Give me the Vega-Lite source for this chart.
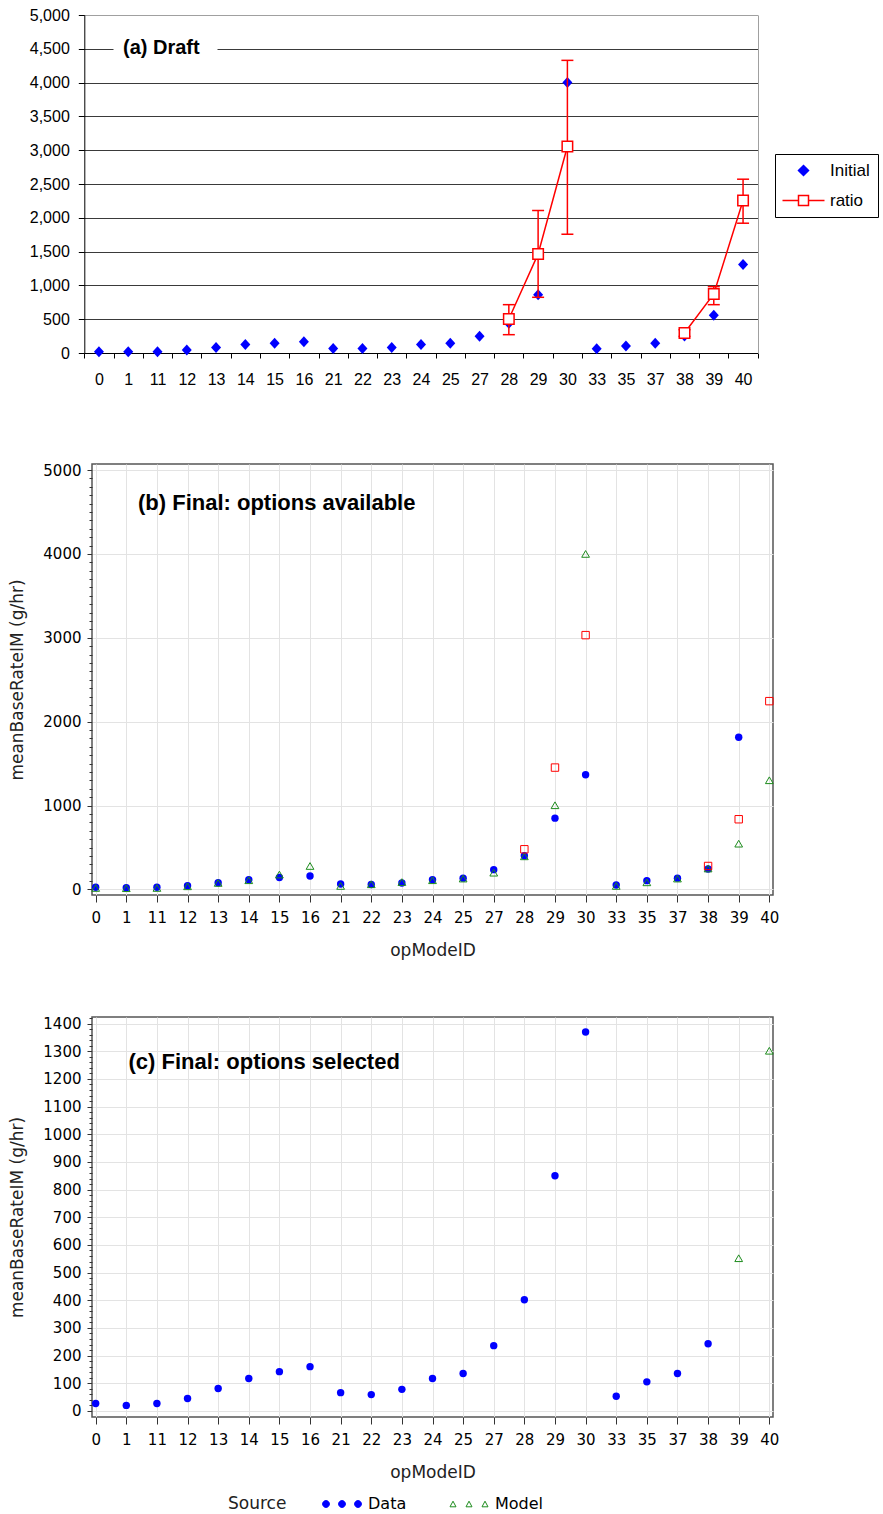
{
  "$schema": "https://vega.github.io/schema/vega-lite/v6.json",
  "background": "white",
  "padding": {"left": 8, "top": 7, "right": 0, "bottom": 0},
  "spacing": 51,
  "resolve": {"scale": {"fill": "independent", "stroke": "independent", "shape": "independent"}},
  "datasets": {
    "draft": [
      {"op": 0, "Initial": 20},
      {"op": 1, "Initial": 20},
      {"op": 11, "Initial": 20},
      {"op": 12, "Initial": 45},
      {"op": 13, "Initial": 80},
      {"op": 14, "Initial": 125},
      {"op": 15, "Initial": 143},
      {"op": 16, "Initial": 165},
      {"op": 21, "Initial": 68},
      {"op": 22, "Initial": 65},
      {"op": 23, "Initial": 80},
      {"op": 24, "Initial": 125},
      {"op": 25, "Initial": 145},
      {"op": 27, "Initial": 248},
      {"op": 28, "Initial": 440, "ratio": 503, "lo": 271, "hi": 715, "seg": "a"},
      {"op": 29, "Initial": 860, "ratio": 1466, "lo": 824, "hi": 2108, "seg": "a"},
      {"op": 30, "Initial": 4000, "ratio": 3055, "lo": 1757, "hi": 4329, "seg": "a"},
      {"op": 33, "Initial": 62},
      {"op": 35, "Initial": 105},
      {"op": 37, "Initial": 145},
      {"op": 38, "Initial": 252, "ratio": 296, "lo": 245, "hi": 345, "seg": "b"},
      {"op": 39, "Initial": 560, "ratio": 873, "lo": 715, "hi": 982, "seg": "b"},
      {"op": 40, "Initial": 1310, "ratio": 2256, "lo": 1920, "hi": 2571, "seg": "b"}
    ],
    "finalB": [
      {"op": 0, "Data": 27, "Model": 18},
      {"op": 1, "Data": 20, "Model": 15},
      {"op": 11, "Data": 27, "Model": 18},
      {"op": 12, "Data": 45, "Model": 38},
      {"op": 13, "Data": 81, "Model": 78},
      {"op": 14, "Data": 117, "Model": 110},
      {"op": 15, "Data": 142, "Model": 178},
      {"op": 16, "Data": 160, "Model": 280},
      {"op": 21, "Data": 66, "Model": 42},
      {"op": 22, "Data": 59, "Model": 62},
      {"op": 23, "Data": 78, "Model": 88},
      {"op": 24, "Data": 117, "Model": 110},
      {"op": 25, "Data": 135, "Model": 130},
      {"op": 27, "Data": 236, "Model": 200},
      {"op": 28, "Data": 402, "Model": 395, "ratio": 479},
      {"op": 29, "Data": 850, "Model": 1004, "ratio": 1453},
      {"op": 30, "Data": 1368, "Model": 4000, "ratio": 3032},
      {"op": 33, "Data": 53, "Model": 42},
      {"op": 35, "Data": 105, "Model": 85},
      {"op": 37, "Data": 135, "Model": 130},
      {"op": 38, "Data": 243, "Model": 250, "ratio": 280},
      {"op": 39, "Data": 1815, "Model": 546, "ratio": 837},
      {"op": 40, "Model": 1302, "ratio": 2245}
    ],
    "finalC": [
      {"op": 0, "Data": 27},
      {"op": 1, "Data": 20},
      {"op": 11, "Data": 27},
      {"op": 12, "Data": 45},
      {"op": 13, "Data": 81},
      {"op": 14, "Data": 117},
      {"op": 15, "Data": 142},
      {"op": 16, "Data": 160},
      {"op": 21, "Data": 66},
      {"op": 22, "Data": 59},
      {"op": 23, "Data": 78},
      {"op": 24, "Data": 117},
      {"op": 25, "Data": 135},
      {"op": 27, "Data": 236},
      {"op": 28, "Data": 402},
      {"op": 29, "Data": 850},
      {"op": 30, "Data": 1370},
      {"op": 33, "Data": 53},
      {"op": 35, "Data": 105},
      {"op": 37, "Data": 135},
      {"op": 38, "Data": 243},
      {"op": 39, "Model": 552},
      {"op": 40, "Model": 1302}
    ]
  },
  "vconcat": [
    {
      "spacing": 75,
      "resolve": {"scale": {"fill": "independent", "stroke": "independent", "shape": "independent"}},
      "vconcat": [
        {
          "width": 666,
          "height": 338,
          "view": {"stroke": null},
          "title": {"text": "(a) Draft", "anchor": "start", "frame": "group", "baseline": "middle", "dx": 31, "offset": -61, "font": "Liberation Sans", "fontSize": 20, "fontWeight": "bold", "color": "black"},
          "data": {"name": "draft"},
          "encoding": {
            "x": {
              "field": "op", "type": "ordinal",
              "scale": {"type": "band", "paddingInner": 0, "paddingOuter": 0, "range": [-7.7, 665.7]},
              "axis": {"title": null, "tickBand": "extent", "tickSize": 5, "tickColor": "black", "domainColor": "black", "labelFont": "Liberation Sans", "labelFontSize": 16, "labelColor": "black", "labelAngle": 0, "labelPadding": 13, "grid": false}
            }
          },
          "layer": [
            {
              "mark": {"type": "point", "shape": "M0,-1.1L1,0L0,1.1L-1,0Z", "size": 100, "filled": true, "color": "blue", "opacity": 1},
              "encoding": {
                "y": {
                  "field": "Initial", "type": "quantitative",
                  "scale": {"domain": [0, 5000], "nice": false, "zero": false},
                  "axis": {
                    "orient": "left", "offset": 7.7, "title": null,
                    "values": [0, 500, 1000, 1500, 2000, 2500, 3000, 3500, 4000, 4500, 5000],
                    "format": ",.0f", "labelFont": "Liberation Sans", "labelFontSize": 16, "labelColor": "black", "labelPadding": 9,
                    "labelOverlap": false, "labelFlush": false,
                    "tickSize": 6, "tickColor": "black", "domainColor": "black",
                    "grid": true,
                    "gridColor": {"condition": {"test": "datum.value === 5000", "value": "#a0a0a0"}, "value": "#3a3a3a"},
                    "gridDash": {"condition": {"test": "datum.value === 4500", "value": [28.7, 104, 2000]}, "value": []}
                  }
                }
              }
            },
            {
              "mark": {"type": "line", "color": "red", "strokeWidth": 1.5},
              "encoding": {
                "y": {"field": "ratio", "type": "quantitative", "axis": null},
                "detail": {"field": "seg", "type": "nominal"}
              }
            },
            {
              "mark": {"type": "rule", "color": "red", "strokeWidth": 1.5},
              "encoding": {
                "y": {"field": "lo", "type": "quantitative", "axis": null},
                "y2": {"field": "hi"}
              }
            },
            {
              "mark": {"type": "tick", "color": "red", "thickness": 1.5, "size": 12, "opacity": 1},
              "encoding": {
                "y": {"field": "lo", "type": "quantitative", "axis": {"orient": "right", "title": null, "labels": false, "ticks": false, "grid": false, "domain": true, "domainColor": "#a0a0a0"}}
              }
            },
            {
              "mark": {"type": "tick", "color": "red", "thickness": 1.5, "size": 12, "opacity": 1},
              "encoding": {
                "y": {"field": "hi", "type": "quantitative", "axis": null}
              }
            },
            {
              "mark": {"type": "point", "shape": "square", "size": 110, "filled": true, "fill": "white", "stroke": "red", "strokeWidth": 1.5, "opacity": 1},
              "encoding": {
                "y": {"field": "ratio", "type": "quantitative", "axis": null}
              }
            },
            {
              "transform": [{"filter": "false"}],
              "mark": {"type": "point", "opacity": 1},
              "encoding": {
                "fill": {"field": "series", "type": "nominal", "scale": {"domain": ["Initial", "ratio"], "range": ["blue", "transparent"]},
                  "legend": {"orient": "none", "legendX": 683, "legendY": 139, "title": null, "direction": "vertical", "labelFont": "Liberation Sans", "labelFontSize": 17, "labelColor": "black", "symbolSize": 100, "symbolStrokeWidth": 1.5, "labelOffset": 30, "padding": 8, "rowPadding": 12, "strokeColor": "black", "fillColor": "white"}},
                "stroke": {"field": "series", "type": "nominal", "scale": {"domain": ["Initial", "ratio"], "range": ["blue", "red"]},
                  "legend": {"orient": "none", "legendX": 683, "legendY": 139, "title": null, "direction": "vertical", "labelFont": "Liberation Sans", "labelFontSize": 17, "labelColor": "black", "symbolSize": 100, "symbolStrokeWidth": 1.5, "labelOffset": 30, "padding": 8, "rowPadding": 12, "strokeColor": "black", "fillColor": "white"}},
                "shape": {"field": "series", "type": "nominal", "scale": {"domain": ["Initial", "ratio"], "range": ["M2.4,-1L3.4,0L2.4,1L1.4,0Z", "M-1.8,0H1.4M3.4,0H6.6M1.4,-1H3.4V1H1.4Z"]},
                  "legend": {"orient": "none", "legendX": 683, "legendY": 139, "title": null, "direction": "vertical", "labelFont": "Liberation Sans", "labelFontSize": 17, "labelColor": "black", "symbolSize": 100, "symbolStrokeWidth": 1.5, "labelOffset": 30, "padding": 8, "rowPadding": 12, "strokeColor": "black", "fillColor": "white"}}
              }
            }
          ],
          "resolve": {"axis": {"y": "independent"}}
        },
        {
          "width": 681,
          "height": 431,
          "title": {"text": "(b) Final: options available", "anchor": "start", "frame": "group", "baseline": "middle", "dx": 46, "offset": -61.5, "font": "Liberation Sans", "fontSize": 22, "fontWeight": "bold", "color": "black"},
          "data": {"name": "finalB"},
          "encoding": {
            "x": {
              "field": "op", "type": "ordinal",
              "scale": {"type": "point", "padding": 0.12},
              "axis": {"title": "opModeID", "titleFont": "DejaVu Sans", "titleFontSize": 17, "titleFontWeight": "normal", "titleColor": "#222", "titlePadding": 17, "labelFont": "DejaVu Sans", "labelFontSize": 15, "labelColor": "black", "labelAngle": 0, "labelPadding": 8, "tickSize": 7, "tickColor": "#333", "domain": false, "grid": true, "gridColor": "#e3e3e3"}
            }
          },
          "layer": [
            {
              "mark": {"type": "point", "shape": "circle", "filled": true, "color": "blue", "size": 55, "opacity": 1},
              "encoding": {
                "y": {
                  "field": "Data", "type": "quantitative", "title": "meanBaseRateIM (g/hr)",
                  "scale": {"domain": [-66, 5072], "nice": false, "zero": false},
                  "axis": {
                    "values": [0,100,200,300,400,500,600,700,800,900,1000,1100,1200,1300,1400,1500,1600,1700,1800,1900,2000,2100,2200,2300,2400,2500,2600,2700,2800,2900,3000,3100,3200,3300,3400,3500,3600,3700,3800,3900,4000,4100,4200,4300,4400,4500,4600,4700,4800,4900,5000],
                    "format": "d",
                    "labelExpr": "datum.value % 1000 === 0 ? datum.label : ''",
                    "tickSize": {"condition": {"test": "datum.value % 1000 === 0", "value": 5}, "value": 3},
                    "gridOpacity": {"condition": {"test": "datum.value % 1000 === 0", "value": 1}, "value": 0},
                    "grid": true, "gridColor": "#e3e3e3", "tickColor": "#333", "domain": false,
                    "labelFont": "DejaVu Sans", "labelFontSize": 15, "labelColor": "black", "labelPadding": 6,
                    "labelOverlap": false, "labelFlush": false,
                    "titleFont": "DejaVu Sans", "titleFontSize": 17, "titleFontWeight": "normal", "titleColor": "#222", "titlePadding": 16
                  }
                }
              }
            },
            {
              "mark": {"type": "point", "shape": "triangle-up", "filled": false, "color": "#1e8c1e", "size": 60, "strokeWidth": 1, "opacity": 1},
              "encoding": {
                "y": {"field": "Model", "type": "quantitative", "axis": null}
              }
            },
            {
              "mark": {"type": "point", "shape": "square", "filled": false, "color": "red", "size": 55, "strokeWidth": 1, "opacity": 1},
              "encoding": {
                "y": {"field": "ratio", "type": "quantitative", "axis": null}
              }
            }
          ],
          "resolve": {"axis": {"y": "independent"}}
        }
      ]
    },
    {
      "width": 681,
      "height": 400,
      "title": {"text": "(c) Final: options selected", "anchor": "start", "frame": "group", "baseline": "middle", "dx": 36.5, "offset": -72.5, "font": "Liberation Sans", "fontSize": 22, "fontWeight": "bold", "color": "black"},
      "data": {"name": "finalC"},
      "encoding": {
        "x": {
          "field": "op", "type": "ordinal",
          "scale": {"type": "point", "padding": 0.12},
          "axis": {"title": "opModeID", "titleFont": "DejaVu Sans", "titleFontSize": 17, "titleFontWeight": "normal", "titleColor": "#222", "titlePadding": 17, "labelFont": "DejaVu Sans", "labelFontSize": 15, "labelColor": "black", "labelAngle": 0, "labelPadding": 8, "tickSize": 7, "tickColor": "#333", "domain": false, "grid": true, "gridColor": "#e3e3e3"}
        }
      },
      "layer": [
        {
          "mark": {"type": "point", "shape": "circle", "filled": true, "color": "blue", "size": 55, "opacity": 1},
          "encoding": {
            "y": {
              "field": "Data", "type": "quantitative", "title": "meanBaseRateIM (g/hr)",
              "scale": {"domain": [-22, 1424], "nice": false, "zero": false},
              "axis": {
                "values": [0,20,40,60,80,100,120,140,160,180,200,220,240,260,280,300,320,340,360,380,400,420,440,460,480,500,520,540,560,580,600,620,640,660,680,700,720,740,760,780,800,820,840,860,880,900,920,940,960,980,1000,1020,1040,1060,1080,1100,1120,1140,1160,1180,1200,1220,1240,1260,1280,1300,1320,1340,1360,1380,1400,1420],
                "format": "d",
                "labelExpr": "datum.value % 100 === 0 ? datum.label : ''",
                "tickSize": {"condition": {"test": "datum.value % 100 === 0", "value": 5}, "value": 3},
                "gridOpacity": {"condition": {"test": "datum.value % 100 === 0", "value": 1}, "value": 0},
                "grid": true, "gridColor": "#e3e3e3", "tickColor": "#333", "domain": false,
                "labelFont": "DejaVu Sans", "labelFontSize": 15, "labelColor": "black", "labelPadding": 6,
                "labelOverlap": false, "labelFlush": false,
                "titleFont": "DejaVu Sans", "titleFontSize": 17, "titleFontWeight": "normal", "titleColor": "#222", "titlePadding": 16
              }
            }
          }
        },
        {
          "mark": {"type": "point", "shape": "triangle-up", "filled": false, "color": "#1e8c1e", "size": 60, "strokeWidth": 1, "opacity": 1},
          "encoding": {
            "y": {"field": "Model", "type": "quantitative", "axis": null}
          }
        },
        {
          "transform": [{"filter": "false"}],
          "mark": {"type": "point", "opacity": 1},
          "encoding": {
            "fill": {"field": "series", "type": "nominal", "scale": {"domain": ["Data", "Model"], "range": ["blue", "transparent"]},
              "legend": {"orient": "none", "legendX": 136, "legendY": 479, "direction": "horizontal", "title": "Source", "titleOrient": "left", "titleFont": "DejaVu Sans", "titleFontSize": 17, "titleFontWeight": "normal", "titleColor": "#222", "titlePadding": 47, "labelFont": "DejaVu Sans", "labelFontSize": 16, "labelColor": "black", "symbolSize": 64, "symbolStrokeWidth": 1, "labelOffset": 18, "columnPadding": 41, "padding": 0, "gridAlign": "each"}},
            "stroke": {"field": "series", "type": "nominal", "scale": {"domain": ["Data", "Model"], "range": ["blue", "#1e8c1e"]},
              "legend": {"orient": "none", "legendX": 136, "legendY": 479, "direction": "horizontal", "title": "Source", "titleOrient": "left", "titleFont": "DejaVu Sans", "titleFontSize": 17, "titleFontWeight": "normal", "titleColor": "#222", "titlePadding": 47, "labelFont": "DejaVu Sans", "labelFontSize": 16, "labelColor": "black", "symbolSize": 64, "symbolStrokeWidth": 1, "labelOffset": 18, "columnPadding": 41, "padding": 0, "gridAlign": "each"}},
            "shape": {"field": "series", "type": "nominal", "scale": {"domain": ["Data", "Model"], "range": ["M-4.85,0A0.85,0.85,0,1,0,-3.15,0A0.85,0.85,0,1,0,-4.85,0ZM-0.85,0A0.85,0.85,0,1,0,0.85,0A0.85,0.85,0,1,0,-0.85,0ZM3.15,0A0.85,0.85,0,1,0,4.85,0A0.85,0.85,0,1,0,3.15,0Z", "M-4,-0.7L-3.25,0.7L-4.75,0.7ZM0,-0.7L0.75,0.7L-0.75,0.7ZM4,-0.7L4.75,0.7L3.25,0.7Z"]},
              "legend": {"orient": "none", "legendX": 136, "legendY": 479, "direction": "horizontal", "title": "Source", "titleOrient": "left", "titleFont": "DejaVu Sans", "titleFontSize": 17, "titleFontWeight": "normal", "titleColor": "#222", "titlePadding": 47, "labelFont": "DejaVu Sans", "labelFontSize": 16, "labelColor": "black", "symbolSize": 64, "symbolStrokeWidth": 1, "labelOffset": 18, "columnPadding": 41, "padding": 0, "gridAlign": "each"}}
          }
        }
      ],
      "resolve": {"axis": {"y": "independent"}}
    }
  ],
  "config": {
    "view": {"stroke": "#555", "strokeWidth": 1.5},
    "font": "DejaVu Sans"
  }
}
